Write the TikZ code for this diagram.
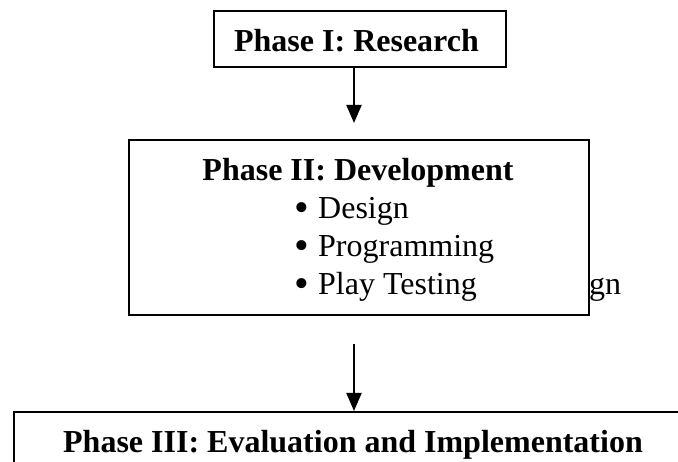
\documentclass[tikz,border=0pt]{standalone}
\usepackage{fontspec}
\setmainfont{Liberation Serif}
\usetikzlibrary{arrows.meta}
\newcommand{\bigbul}{\raisebox{-2.5pt}{\fontsize{42}{38}\selectfont\textbullet}}
\begin{document}
\begin{tikzpicture}[x=1pt,y=-1pt,
  boxstyle/.style={draw=black,line width=2pt,fill=white,rectangle,inner sep=0pt},
  txt/.style={inner sep=0pt,font=\fontsize{32}{38}\selectfont},
  btxt/.style={inner sep=0pt,font=\fontsize{32}{38}\selectfont\bfseries},
  arr/.style={line width=2pt,-{Triangle[length=18pt,width=15pt]}}]
\useasboundingbox (0,0) rectangle (678,462);
\clip (0,0) rectangle (678,462);
\fill[white] (0,0) rectangle (678,462);
% hidden tail text
\node[txt,anchor=base west] (tail) at (589,295) {gn};
% boxes
\node[boxstyle,minimum width=292pt,minimum height=56pt] (b1) at (360,39) {};
\node[boxstyle,minimum width=460pt,minimum height=175pt] (b2) at (359,227.5) {};
\node[boxstyle,minimum width=690pt,minimum height=100pt] (b3) at (359,462) {};
% texts
\node[btxt,anchor=base] (t1) at (356.5,52) {Phase I: Research};
\node[btxt,anchor=base] (t2) at (358,181) {Phase II: Development};
\node[txt,anchor=base west] (l1) at (294,219) {\makebox[24pt][l]{\bigbul}Design};
\node[txt,anchor=base west] (l2) at (294,257) {\makebox[24pt][l]{\bigbul}Programming};
\node[txt,anchor=base west] (l3) at (294,295) {\makebox[24pt][l]{\bigbul}Play Testing};
\node[btxt,anchor=base] (t3) at (353,453) {Phase III: Evaluation and Implementation};
% arrows
\coordinate (ax) at (354,0);
\draw[arr,shorten >=16pt] (b1.south -| ax) -- (b2.north -| ax);
\draw[arr,shorten <=28pt] (b2.south -| ax) -- (b3.north -| ax);
\end{tikzpicture}
\end{document}
